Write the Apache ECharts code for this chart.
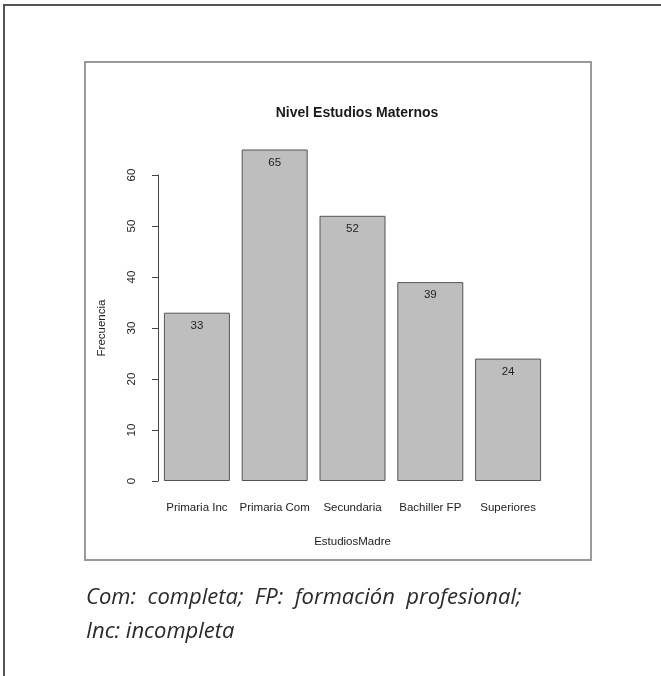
<!DOCTYPE html>
<html>
<head>
<meta charset="utf-8">
<script src="https://cdn.jsdelivr.net/npm/echarts@6/dist/echarts.min.js"></script>
<style>
html,body{margin:0;padding:0;background:#fff;}
#chart{width:661px;height:676px;}
</style>
</head>
<body>
<div id="chart"></div>
<script>
const categories = ['Primaria Inc', 'Primaria Com', 'Secundaria', 'Bachiller FP', 'Superiores'];
const frecuencias = [33, 65, 52, 39, 24];
const yTicks = [0, 10, 20, 30, 40, 50, 60];
const chartTitle = 'Nivel Estudios Maternos';
const xTitle = 'EstudiosMadre';
const yTitle = 'Frecuencia';
const captionLine1 = 'Com:  completa;  FP:  formación  profesional;';
const captionLine2 = 'Inc: incompleta';

const chart = echarts.init(document.getElementById('chart'), null, {renderer: 'canvas'});
const font = '"Liberation Sans", Arial, sans-serif';
const capFont = 'italic 22px "Open Sans", sans-serif';
chart.setOption({
  animation: false,
  backgroundColor: '#ffffff',
  title: {
    text: chartTitle,
    left: 352, top: 101, textAlign: 'center',
    textStyle: {fontFamily: font, fontSize: 14, fontWeight: 'bold', color: '#1a1a1a'}
  },
  grid: {left: 158, top: 175, width: 389, height: 306},
  xAxis: {
    type: 'category',
    data: categories,
    axisLine: {show: false},
    axisTick: {show: false},
    axisLabel: {interval: 0, margin: 21, fontFamily: font, fontSize: 11.5, color: '#222'},
    name: xTitle,
    nameLocation: 'middle',
    nameGap: 55,
    nameTextStyle: {fontFamily: font, fontSize: 11.5, color: '#222'}
  },
  yAxis: {
    type: 'value',
    min: 0, max: 60, interval: 10,
    splitLine: {show: false},
    axisLine: {show: true, lineStyle: {color: '#444', width: 1}},
    axisTick: {show: true, length: 6, lineStyle: {color: '#444', width: 1}},
    axisLabel: {rotate: 90, margin: 20, fontFamily: font, fontSize: 11.5, color: '#222',
      formatter: v => yTicks.includes(v) ? String(v) : ''},
    name: yTitle,
    nameLocation: 'middle',
    nameRotate: 90,
    nameGap: 50,
    nameTextStyle: {fontFamily: font, fontSize: 11.5, color: '#222'}
  },
  series: [{
    type: 'bar',
    data: frecuencias,
    barWidth: 66,
    clip: false,
    itemStyle: {color: '#bebebe', borderColor: '#555', borderWidth: 1},
    label: {show: true, position: 'insideTop', distance: 7, fontFamily: font, fontSize: 11.5, color: '#222'}
  }],
  graphic: [
    {type: 'polyline', shape: {points: [[4, 676], [4, 5], [661, 5]]},
      style: {stroke: '#555', lineWidth: 2, fill: null}, silent: true},
    {type: 'rect', shape: {x: 85, y: 62, width: 506, height: 498},
      style: {stroke: '#9a9a9a', lineWidth: 2, fill: null}, silent: true},
    {type: 'text', left: 86, top: 587,
      style: {text: captionLine1, font: capFont, fill: '#2a2a2a'}},
    {type: 'text', left: 86, top: 621,
      style: {text: captionLine2, font: capFont, fill: '#2a2a2a'}}
  ]
});
</script>
</body>
</html>
